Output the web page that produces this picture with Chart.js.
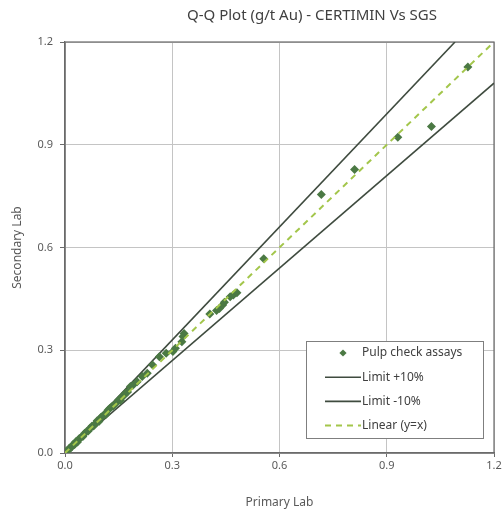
<!DOCTYPE html>
<html>
<head>
<meta charset="utf-8">
<script src="https://cdn.jsdelivr.net/npm/chart.js@4/dist/chart.umd.min.js"></script>
<style>
  html, body { margin: 0; padding: 0; background: #fff; }
  #wrap { width: 504px; height: 515px; }
</style>
</head>
<body>
<div id="wrap"><canvas id="qq"></canvas></div>
<script>
// ===============================
// Data
// ===============================
const chartTitle = "Q-Q Plot (g/t Au) - CERTIMIN Vs SGS";
const primaryLab = [
  0.005, 0.010, 0.012, 0.018, 0.022, 0.027, 0.030, 0.035, 0.040, 0.045,
  0.050, 0.055, 0.060, 0.065, 0.070, 0.075, 0.080, 0.085, 0.090, 0.095,
  0.100, 0.105, 0.110, 0.115, 0.120, 0.125, 0.130, 0.135, 0.140, 0.145,
  0.150, 0.155, 0.160, 0.165, 0.170, 0.175, 0.183, 0.190, 0.202, 0.216,
  0.230, 0.245, 0.264, 0.283, 0.302, 0.309, 0.327, 0.330, 0.333, 0.405,
  0.424, 0.432, 0.441, 0.446, 0.462, 0.471, 0.481, 0.556, 0.717, 0.810,
  0.931, 1.025, 1.127
];
const secondaryLab = [
  0.006, 0.009, 0.014, 0.017, 0.024, 0.025, 0.033, 0.032, 0.042, 0.046,
  0.048, 0.058, 0.062, 0.064, 0.072, 0.078, 0.079, 0.086, 0.094, 0.092,
  0.104, 0.108, 0.112, 0.113, 0.125, 0.130, 0.135, 0.137, 0.142, 0.148,
  0.155, 0.153, 0.165, 0.168, 0.176, 0.178, 0.194, 0.198, 0.208, 0.223,
  0.233, 0.257, 0.281, 0.291, 0.296, 0.306, 0.325, 0.340, 0.349, 0.406,
  0.416, 0.422, 0.432, 0.440, 0.456, 0.461, 0.468, 0.567, 0.755, 0.828,
  0.922, 0.953, 1.127
];
// reference lines (endpoints)
const upperX = [0, 1.2 / 1.1];
const upperY = [0, 1.2];
const lowerX = [0, 1.2];
const lowerY = [0, 1.08];
const linearX = [0, 1.2];
const linearY = [0, 1.2];
const tickValues = [0, 0.3, 0.6, 0.9, 1.2];

const toPoints = (xs, ys) => xs.map((x, i) => ({ x: x, y: ys[i] }));

const FONT = "'Noto Sans', 'Open Sans', sans-serif";
const textColor = "#595959";
const axisColor = "#6b6b6b";
const gridColor = "#c4c4c4";

// ===============================
// Plugins: title, plot border, legend box
// ===============================
const titlePlugin = {
  id: "qqTitle",
  afterDraw(chart) {
    const ctx = chart.ctx;
    ctx.save();
    ctx.fillStyle = "#404040";
    ctx.font = "15px " + FONT;
    ctx.textAlign = "center";
    ctx.textBaseline = "middle";
    ctx.fillText(chartTitle, 312, 16);
    ctx.restore();
  }
};

const borderPlugin = {
  id: "plotBorder",
  beforeDatasetsDraw(chart) {
    const a = chart.chartArea;
    const ctx = chart.ctx;
    ctx.save();
    ctx.strokeStyle = axisColor;
    ctx.lineWidth = 1.2;
    ctx.strokeRect(a.left, a.top, a.right - a.left, a.bottom - a.top);
    ctx.restore();
  }
};

const legendBoxPlugin = {
  id: "legendBox",
  afterDraw(chart) {
    const a = chart.chartArea;
    const ctx = chart.ctx;
    const w = 177, h = 97;
    const x0 = a.right - 11 - w;
    const y0 = a.bottom - 15 - h;
    ctx.save();
    ctx.fillStyle = "#fff";
    ctx.fillRect(x0, y0, w, h);
    ctx.strokeStyle = "#7f7f7f";
    ctx.lineWidth = 1;
    ctx.strokeRect(x0 + 0.5, y0 + 0.5, w, h);

    ctx.font = "12px " + FONT;
    ctx.textBaseline = "middle";
    chart.data.datasets.forEach((ds, i) => {
      const cy = y0 + 12 + i * 24.2;
      const lx1 = x0 + 19, lx2 = x0 + 55;
      if (ds.showLine) {
        ctx.beginPath();
        ctx.strokeStyle = ds.borderColor;
        ctx.lineWidth = ds.borderWidth;
        ctx.setLineDash(ds.borderDash || []);
        ctx.moveTo(lx1, cy);
        ctx.lineTo(lx2, cy);
        ctx.stroke();
        ctx.setLineDash([]);
      } else {
        const cx = (lx1 + lx2) / 2;
        const r = 3.6;
        ctx.beginPath();
        ctx.fillStyle = ds.backgroundColor;
        ctx.moveTo(cx, cy - r);
        ctx.lineTo(cx + r, cy);
        ctx.lineTo(cx, cy + r);
        ctx.lineTo(cx - r, cy);
        ctx.closePath();
        ctx.fill();
      }
      ctx.fillStyle = "#404040";
      ctx.textAlign = "left";
      ctx.fillText(ds.label, lx2 + 1, cy);
    });
    ctx.restore();
  }
};

// ===============================
// Chart
// ===============================
new Chart(document.getElementById("qq"), {
  type: "scatter",
  data: {
    datasets: [
      {
        label: "Pulp check assays",
        data: toPoints(primaryLab, secondaryLab),
        pointStyle: "rectRot",
        pointRadius: 4.5,
        backgroundColor: "#4b7944",
        borderColor: "#4b7944",
        borderWidth: 0,
        showLine: false,
        order: 1
      },
      {
        label: "Limit +10%",
        data: toPoints(upperX, upperY),
        showLine: true,
        borderColor: "#3f4b3f",
        borderWidth: 1.6,
        pointRadius: 0,
        order: 2
      },
      {
        label: "Limit -10%",
        data: toPoints(lowerX, lowerY),
        showLine: true,
        borderColor: "#3f4b3f",
        borderWidth: 1.6,
        pointRadius: 0,
        order: 2
      },
      {
        label: "Linear (y=x)",
        data: toPoints(linearX, linearY),
        showLine: true,
        borderColor: "#a3c64b",
        borderWidth: 2,
        borderDash: [6, 5],
        pointRadius: 0,
        order: 0
      }
    ]
  },
  options: {
    responsive: true,
    maintainAspectRatio: false,
    animation: false,
    layout: { padding: { top: 42, right: 10, left: 0, bottom: 0 } },
    plugins: {
      legend: { display: false },
      title: { display: false },
      tooltip: { enabled: false }
    },
    scales: {
      x: {
        type: "linear",
        min: 0,
        max: 1.2,
        afterBuildTicks: (scale) => { scale.ticks = tickValues.map(v => ({ value: v })); },
        afterFit: (scale) => { scale.height = 62; },
        ticks: {
          padding: 2,
          color: textColor,
          font: { family: FONT, size: 11 },
          callback: (v) => Number(v).toFixed(1)
        },
        grid: { color: gridColor, tickColor: axisColor, tickLength: 4 },
        border: { color: axisColor, width: 1.2 },
        title: {
          display: true,
          text: "Primary Lab",
          color: textColor,
          font: { family: FONT, size: 12 },
          padding: { top: 0, bottom: 5 }
        }
      },
      y: {
        type: "linear",
        min: 0,
        max: 1.2,
        afterBuildTicks: (scale) => { scale.ticks = tickValues.map(v => ({ value: v })); },
        afterFit: (scale) => { scale.width = 65; },
        ticks: {
          padding: 7,
          color: textColor,
          font: { family: FONT, size: 11 },
          callback: (v) => Number(v).toFixed(1)
        },
        grid: { color: gridColor, tickColor: axisColor, tickLength: 5 },
        border: { color: axisColor, width: 1.2 },
        title: {
          display: true,
          text: "Secondary Lab",
          color: textColor,
          font: { family: FONT, size: 12 },
          padding: { top: 10, bottom: 0 }
        }
      }
    }
  },
  plugins: [titlePlugin, borderPlugin, legendBoxPlugin]
});
</script>
</body>
</html>
